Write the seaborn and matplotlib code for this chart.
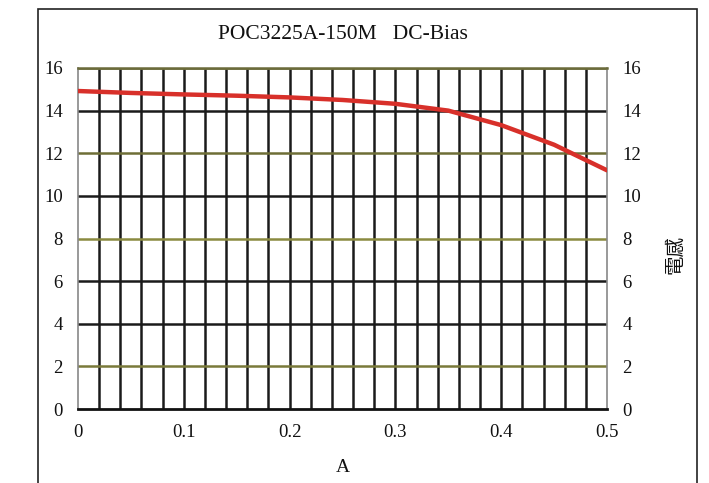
import matplotlib
matplotlib.use("Agg")
import matplotlib.pyplot as plt
import seaborn as sns
import pandas as pd
import numpy as np
from matplotlib.patches import Rectangle

current_a = [0.0, 0.05, 0.10, 0.15, 0.20, 0.25, 0.30, 0.35, 0.40, 0.45, 0.50]
inductance = [14.92, 14.83, 14.76, 14.70, 14.62, 14.50, 14.32, 14.00, 13.32, 12.40, 11.20]
xticks = [0, 0.1, 0.2, 0.3, 0.4, 0.5]
xticklabels = ["0", "0.1", "0.2", "0.3", "0.4", "0.5"]
yticks = [0, 2, 4, 6, 8, 10, 12, 14, 16]
title = "POC3225A-150M   DC-Bias"
xlabel = "A"
ylabel_right = "電感"

sns.set_theme(style="white")
plt.rcParams['font.family'] = ['Liberation Serif', 'Noto Sans CJK TC', 'DejaVu Sans']

fig = plt.figure(figsize=(7.09, 4.83), dpi=100)
fig.patch.set_facecolor("white")
fig.add_artist(Rectangle((38/709, -0.05), (697-38)/709, 1.05 - 9/483,
                         transform=fig.transFigure, fill=False,
                         edgecolor="#222222", linewidth=1.2))

ax = fig.add_axes([78/709, 1-409/483, (607-78)/709, (409-68)/483])
df = pd.DataFrame({"A": current_a, "L": inductance})

# grid
for gx in np.linspace(0, 0.5, 26)[1:-1]:
    ax.axvline(gx, color="#1a1a1a", linewidth=1.8, zorder=1)
olive = {16: "#6b6b3a", 12: "#6e6e36", 8: "#8a8a40", 2: "#7a7a3a"}
for gy in yticks[1:]:
    ax.axhline(gy, color=olive.get(gy, "#1a1a1a"), linewidth=1.8, zorder=1)

sns.lineplot(data=df, x="A", y="L", ax=ax, color="#d8302a", linewidth=3.2,
             zorder=3)

ax.set_xlim(0, 0.5)
ax.set_ylim(0, 16)
ax.set_xticks(xticks)
ax.set_xticklabels(xticklabels)
ax.set_yticks(yticks)
ax.tick_params(axis="both", length=0, labelsize=13.5, colors="#111111")
ax.tick_params(axis="x", pad=11)
ax.tick_params(axis="y", pad=11, labelright=True, right=False)
ax.set_xlabel(xlabel, fontsize=14, labelpad=13, color="#111111")
ax.set_ylabel("")
ax.set_title(title, fontsize=15.5, pad=21, color="#111111")

for side in ["left", "right"]:
    ax.spines[side].set_color("#888888")
    ax.spines[side].set_linewidth(1.2)
ax.spines["top"].set_color("#6b6b3a")
ax.spines["top"].set_linewidth(1.8)
ax.spines["bottom"].set_color("#111111")
ax.spines["bottom"].set_linewidth(2.0)

fig.text(675/709, 1-255/483, ylabel_right, rotation=90, ha="center",
         va="center", fontsize=14, color="#111111",
         family=['Noto Sans CJK TC', 'DejaVu Sans'])

fig.savefig("out.png", dpi=100)
